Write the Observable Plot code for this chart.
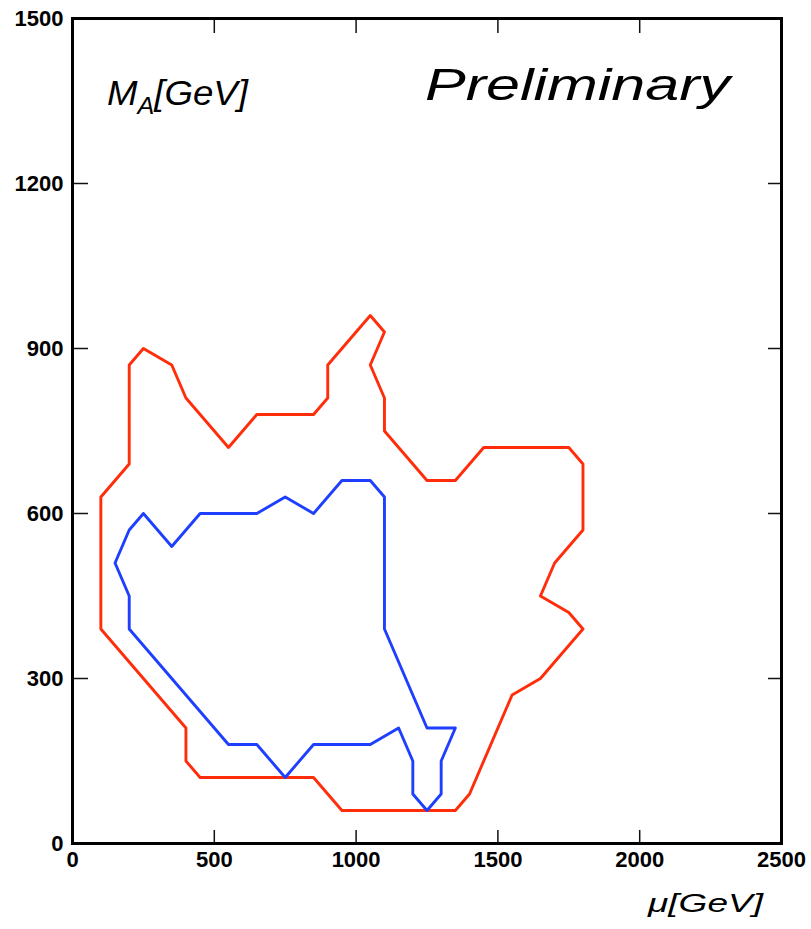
<!DOCTYPE html>
<html>
<head>
<meta charset="utf-8">
<script src="https://cdn.jsdelivr.net/npm/d3@7"></script>
<script src="https://cdn.jsdelivr.net/npm/@observablehq/plot@0.6"></script>
<style>
  html, body { margin: 0; padding: 0; background: #fff; }
  #chart svg { display: block; }
</style>
</head>
<body>
<div id="chart"></div>
<script>
// Red contour (closed), mu [GeV] and M_A [GeV]
const redMu = [100, 200, 200, 250, 350, 400, 550, 650, 850, 900, 900, 1050, 1100, 1050, 1100, 1100, 1250, 1350, 1450, 1750, 1800, 1800, 1700, 1650, 1750, 1800, 1650, 1550, 1400, 1350, 950, 850, 450, 400, 400, 200, 100, 100];
const redMA = [630, 690, 870, 900, 870, 810, 720, 780, 780, 810, 870, 960, 930, 870, 810, 750, 660, 660, 720, 720, 690, 570, 510, 450, 420, 390, 300, 270, 90, 60, 60, 120, 120, 150, 210, 330, 390, 630];

// Blue contour (closed)
const blueMu = [250, 350, 450, 650, 750, 850, 950, 1050, 1100, 1100, 1250, 1350, 1300, 1300, 1250, 1200, 1200, 1150, 1050, 850, 750, 650, 550, 200, 200, 150, 200, 250];
const blueMA = [600, 540, 600, 600, 630, 600, 660, 660, 630, 390, 210, 210, 150, 90, 60, 90, 150, 210, 180, 180, 120, 180, 180, 390, 450, 510, 570, 600];

const xTicks = [0, 500, 1000, 1500, 2000, 2500];
const yTicks = [0, 300, 600, 900, 1200, 1500];
const xInner = [500, 1000, 1500, 2000];
const yInner = [300, 600, 900, 1200];

const red = redMu.map((m, i) => ({mu: m, ma: redMA[i]}));
const blue = blueMu.map((m, i) => ({mu: m, ma: blueMA[i]}));

const W = 811, H = 929;
const mL = 72, mR = 30, mT = 18, mB = 86;
const innerW = W - mL - mR, innerH = H - mT - mB;
const tickFont = "'Liberation Sans', Arial, Helvetica, sans-serif";

const chart = Plot.plot({
  width: W,
  height: H,
  marginLeft: mL,
  marginRight: mR,
  marginTop: mT,
  marginBottom: mB,
  style: {background: "#fff", fontFamily: tickFont},
  x: {domain: [0, 2500]},
  y: {domain: [0, 1500]},
  marks: [
    Plot.line(red, {x: "mu", y: "ma", stroke: "#ff2d0a", strokeWidth: 2.9, strokeLinejoin: "round"}),
    Plot.line(blue, {x: "mu", y: "ma", stroke: "#1f3fff", strokeWidth: 2.9, strokeLinejoin: "round"}),
    // inward ticks
    Plot.ruleX(xInner, {x: d => d, insetTop: innerH - 13, stroke: "#111", strokeWidth: 1.5}),
    Plot.ruleX(xInner, {x: d => d, insetBottom: innerH - 15, stroke: "#111", strokeWidth: 1.5}),
    Plot.ruleY(yInner, {y: d => d, insetRight: innerW - 16, stroke: "#111", strokeWidth: 1.5}),
    Plot.ruleY(yInner, {y: d => d, insetLeft: innerW - 13, stroke: "#111", strokeWidth: 1.5}),
    Plot.frame({stroke: "#000", strokeWidth: 3}),
    Plot.axisX(xTicks, {anchor: "bottom", tickSize: 0, tickPadding: 8, fontSize: 22, fontWeight: "bold", label: null, tickFormat: d => String(d)}),
    Plot.axisY(yTicks, {anchor: "left", tickSize: 0, tickPadding: 9, fontSize: 22, fontWeight: "bold", label: null, tickFormat: d => String(d)})
  ]
});

document.getElementById("chart").appendChild(chart);

const svg = d3.select(chart);
const italic = "'Liberation Sans', Arial, Helvetica, sans-serif";

// M_A[GeV]
const t1 = svg.append("text")
  .attr("x", 107).attr("y", 105)
  .attr("text-anchor", "start")
  .attr("font-family", italic).attr("font-style", "italic")
  .attr("font-size", 35).attr("fill", "#000")
  .attr("textLength", 141).attr("lengthAdjust", "spacingAndGlyphs");
t1.append("tspan").text("M");
t1.append("tspan").attr("font-size", 24).attr("dy", 9).text("A");
t1.append("tspan").attr("dy", -9).text("[GeV]");

// Preliminary
svg.append("text")
  .attr("x", 425).attr("y", 100)
  .attr("text-anchor", "start")
  .attr("font-family", italic).attr("font-style", "italic")
  .attr("font-size", 45).attr("fill", "#000")
  .attr("textLength", 305).attr("lengthAdjust", "spacingAndGlyphs")
  .text("Preliminary");

// mu[GeV]
svg.append("text")
  .attr("x", 648).attr("y", 912)
  .attr("text-anchor", "start")
  .attr("font-family", italic).attr("font-style", "italic")
  .attr("font-size", 26).attr("fill", "#000")
  .attr("textLength", 115).attr("lengthAdjust", "spacingAndGlyphs")
  .text("μ[GeV]");
</script>
</body>
</html>
